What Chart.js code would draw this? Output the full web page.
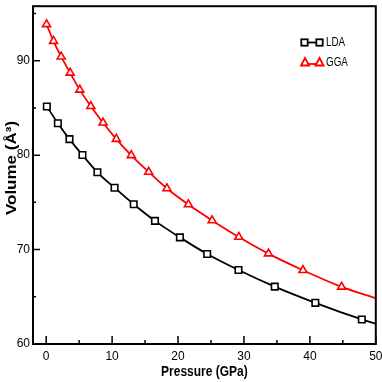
<!DOCTYPE html>
<html>
<head>
<meta charset="utf-8">
<script src="https://cdn.jsdelivr.net/npm/chart.js@4/dist/chart.umd.min.js"></script>
<style>
  html, body { margin: 0; padding: 0; background: #fff; }
  #wrap { width: 382px; height: 382px; }
</style>
</head>
<body>
<div id="wrap"><canvas id="eosChart" width="382" height="382"></canvas></div>
<script>
// values
var pressureLDA = [0.1, 1.77, 3.53, 5.5, 7.77, 10.37, 13.28, 16.5, 20.28, 24.42, 29.17, 34.67, 40.83, 47.88];
var volumeLDA = [85.15, 83.38, 81.69, 80.01, 78.18, 76.55, 74.8, 73.04, 71.29, 69.53, 67.84, 66.08, 64.36, 62.6];
var pressureGGA = [0.05, 1.11, 2.27, 3.63, 5.1, 6.77, 8.63, 10.64, 12.91, 15.55, 18.32, 21.57, 25.17, 29.22, 33.71, 38.95, 44.81];
var volumeGGA = [93.85, 92.08, 90.43, 88.71, 86.91, 85.18, 83.43, 81.7, 79.98, 78.22, 76.47, 74.77, 73.09, 71.33, 69.57, 67.81, 66.05];
// where the fitted curves leave the frame at 50 GPa
var ldaCurveEnd = [50, 62.14];
var ggaCurveEnd = [50, 64.85];

var xMajor = [0, 10, 20, 30, 40, 50];
var xMinor = [5, 15, 25, 35, 45];
var yMajor = [60, 70, 80, 90];
var yMinor = [65, 75, 85, 95];

var xTitle = 'Pressure (GPa)';
var yTitle = 'Volume (Å³)';

function toPoints(px, vy, end) {
  var pts = [];
  for (var i = 0; i < px.length; i++) {
    pts.push({x: px[i], y: vy[i]});
  }
  pts.push({x: end[0], y: end[1]});
  return pts;
}

var ldaPoints = toPoints(pressureLDA, volumeLDA, ldaCurveEnd);
var ggaPoints = toPoints(pressureGGA, volumeGGA, ggaCurveEnd);

function radiusFor(n) {
  return function(c) { return c.dataIndex >= n ? 0 : 4.6; };
}

// squeezed text, the original figure is narrower than its fonts
function narrowText(ctx, text, x, y, sx) {
  ctx.save();
  ctx.translate(x, y);
  ctx.scale(sx, 1);
  ctx.fillText(text, 0, 0);
  ctx.restore();
}

var frameAndTicks = {
  id: 'frameAndTicks',
  afterDraw: function(chart) {
    var ctx = chart.ctx;
    var a = chart.chartArea;
    var xs = chart.scales.x, ys = chart.scales.y;
    ctx.save();
    ctx.strokeStyle = '#000';
    ctx.lineWidth = 2;
    ctx.strokeRect(a.left, a.top, a.right - a.left, a.bottom - a.top);
    ctx.lineWidth = 1.5;
    ctx.beginPath();
    xMajor.forEach(function(v) {
      var p = xs.getPixelForValue(v);
      ctx.moveTo(p, a.bottom); ctx.lineTo(p, a.bottom - 8);
    });
    xMinor.forEach(function(v) {
      var p = xs.getPixelForValue(v);
      ctx.moveTo(p, a.bottom); ctx.lineTo(p, a.bottom - 4);
    });
    yMajor.forEach(function(v) {
      var p = ys.getPixelForValue(v);
      ctx.moveTo(a.left, p); ctx.lineTo(a.left + 7, p);
    });
    yMinor.forEach(function(v) {
      var p = ys.getPixelForValue(v);
      ctx.moveTo(a.left, p); ctx.lineTo(a.left + 3, p);
    });
    ctx.stroke();

    // axis titles
    ctx.fillStyle = '#000';
    ctx.textAlign = 'center';
    ctx.textBaseline = 'middle';
    ctx.font = 'bold 15px "Liberation Sans", Arial, sans-serif';
    narrowText(ctx, xTitle, (a.left + a.right) / 2, 372, 0.8);
    ctx.save();
    ctx.translate(12, 168);
    ctx.rotate(-Math.PI / 2);
    ctx.scale(1, 0.85);
    ctx.font = 'bold 17px "Liberation Sans", Arial, sans-serif';
    ctx.fillText(yTitle, 0, 0);
    ctx.restore();

    // legend
    var lx = 302, rx = 320;
    ctx.lineWidth = 1.8;
    ctx.strokeStyle = '#000';
    ctx.beginPath(); ctx.moveTo(lx, 42.5); ctx.lineTo(rx, 42.5); ctx.stroke();
    [lx + 2.5, rx - 0.5].forEach(function(cx) {
      ctx.fillStyle = '#fff';
      ctx.fillRect(cx - 3.2, 39.3, 6.4, 6.4);
      ctx.strokeRect(cx - 3.2, 39.3, 6.4, 6.4);
    });
    ctx.strokeStyle = '#ff0000';
    ctx.beginPath(); ctx.moveTo(lx, 64); ctx.lineTo(rx, 64); ctx.stroke();
    [lx + 3, rx - 0.5].forEach(function(cx) {
      ctx.fillStyle = '#fff';
      ctx.beginPath();
      ctx.moveTo(cx, 58); ctx.lineTo(cx + 4, 65.5); ctx.lineTo(cx - 4, 65.5); ctx.closePath();
      ctx.fill(); ctx.stroke();
    });
    ctx.fillStyle = '#000';
    ctx.font = '12px "Liberation Sans", Arial, sans-serif';
    ctx.textAlign = 'left';
    narrowText(ctx, 'LDA', 326, 43, 0.82);
    narrowText(ctx, 'GGA', 326, 62.5, 0.82);
    ctx.restore();
  }
};

var tickFont = { family: '"Liberation Sans", Arial, sans-serif', size: 12 };

var ctx = document.getElementById('eosChart').getContext('2d');
var eosChart = new Chart(ctx, {
  type: 'scatter',
  data: {
    datasets: [{
      label: 'LDA',
      data: ldaPoints,
      showLine: true,
      borderColor: '#000000',
      borderWidth: 1.8,
      cubicInterpolationMode: 'monotone',
      pointStyle: 'rect',
      pointRadius: radiusFor(pressureLDA.length),
      pointBorderWidth: 1.6,
      pointBorderColor: '#000000',
      pointBackgroundColor: '#ffffff'
    }, {
      label: 'GGA',
      data: ggaPoints,
      showLine: true,
      borderColor: '#ff0000',
      borderWidth: 1.8,
      cubicInterpolationMode: 'monotone',
      pointStyle: 'triangle',
      pointRadius: radiusFor(pressureGGA.length),
      pointBorderWidth: 1.6,
      pointBorderColor: '#ff0000',
      pointBackgroundColor: '#ffffff'
    }]
  },
  options: {
    responsive: false,
    animation: false,
    events: [],
    layout: { padding: { top: 0, right: 6, left: 0, bottom: 0 } },
    plugins: { legend: { display: false }, tooltip: { enabled: false } },
    scales: {
      x: {
        type: 'linear',
        min: -2,
        max: 50,
        grid: { display: false, drawTicks: false },
        border: { display: false },
        afterFit: function(s) {
          s.height = 38;
          s.paddingLeft = 0; s.paddingRight = 0;
        },
        ticks: {
          stepSize: 10,
          includeBounds: false,
          padding: 5,
          color: '#000',
          font: tickFont
        }
      },
      y: {
        type: 'linear',
        min: 60,
        max: 95.77,
        grid: { display: false, drawTicks: false },
        border: { display: false },
        afterFit: function(s) {
          s.width = 33;
          s.paddingTop = 0; s.paddingBottom = 0;
        },
        ticks: {
          stepSize: 10,
          includeBounds: false,
          padding: 3,
          color: '#000',
          font: tickFont
        }
      }
    }
  },
  plugins: [frameAndTicks]
});
</script>
</body>
</html>
